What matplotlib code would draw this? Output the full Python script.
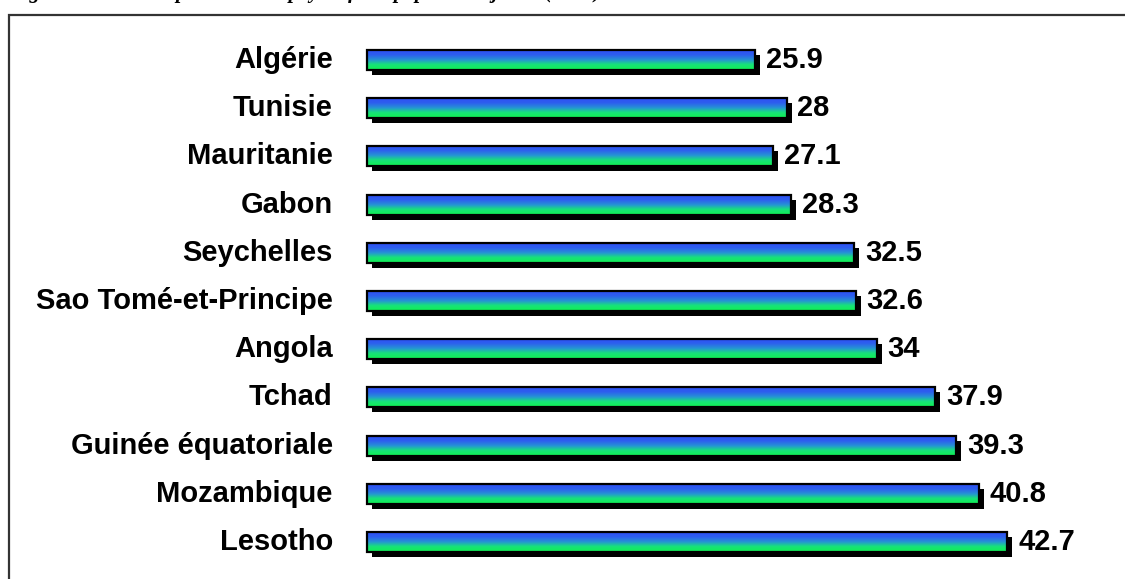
import numpy as np
import matplotlib
matplotlib.use("Agg")
import matplotlib.pyplot as plt
from matplotlib.colors import LinearSegmentedColormap
from matplotlib.patches import Rectangle

# données (de haut en bas)
pays = ["Algérie", "Tunisie", "Mauritanie", "Gabon", "Seychelles",
        "Sao Tomé-et-Principe", "Angola", "Tchad", "Guinée équatoriale",
        "Mozambique", "Lesotho"]
valeurs = [25.9, 28, 27.1, 28.3, 32.5, 32.6, 34, 37.9, 39.3, 40.8, 42.7]

titre = "Figure 3 : Taux de pauvreté des pays à forte population jeune (2005)"

W, H, DPI = 1125, 579, 100
fig = plt.figure(figsize=(W / DPI, H / DPI), dpi=DPI)
ax = fig.add_axes([0, 0, 1, 1])

# échelle : 15 px par unité, zéro à x = 366.5 px ; lignes espacées de 48.2 px
px_unit = 15.0
x0 = 366.5
y_first, y_step = 60.0, 48.2

cmap = LinearSegmentedColormap.from_list(
    "bleu_vert", [(0.0, "#2d4ff4"), (0.25, "#2d60ee"), (0.5, "#2597d2"),
                  (0.72, "#18e27a"), (1.0, "#10f250")])
grad = np.linspace(0, 1, 64).reshape(-1, 1)

h = 20 / y_step
dx = 5 / px_unit
dy = 5 / y_step

for i, (nom, v) in enumerate(zip(pays, valeurs)):
    # ombre portée
    ax.add_patch(Rectangle((dx, i - h / 2 + dy), v, h, facecolor="black",
                           edgecolor="none", zorder=1))
    # dégradé bleu -> vert
    ax.imshow(grad, cmap=cmap, aspect="auto", origin="upper",
              extent=(0, v, i + h / 2, i - h / 2), zorder=2,
              interpolation="bilinear")
    ax.add_patch(Rectangle((0, i - h / 2), v, h, facecolor="none",
                           edgecolor="black", linewidth=1.6, zorder=3))
    ax.text(-2.25, i, nom, ha="right", va="center", fontsize=21,
            fontweight="bold", family="Liberation Sans")
    ax.text(v + 11 / px_unit, i, f"{v:g}", ha="left", va="center",
            fontsize=21, fontweight="bold", family="Liberation Sans")

ax.set_xlim(-x0 / px_unit, (W - x0) / px_unit)
ax.set_ylim((H - y_first) / y_step, -y_first / y_step)
ax.axis("off")

# cadre qui déborde à droite et en bas
fig.patches.append(Rectangle((8.5 / W, -0.1), 1.2, 1 - 15 / H + 0.1,
                             transform=fig.transFigure, fill=False,
                             edgecolor="#333333", linewidth=1.6))

# titre coupé en haut de l'image
fig.text(10 / W, 1 + 2 / H, titre, ha="left", va="baseline",
         fontsize=15, fontstyle="italic", fontweight="bold",
         family="Liberation Serif")

fig.savefig("out.png", dpi=DPI)
